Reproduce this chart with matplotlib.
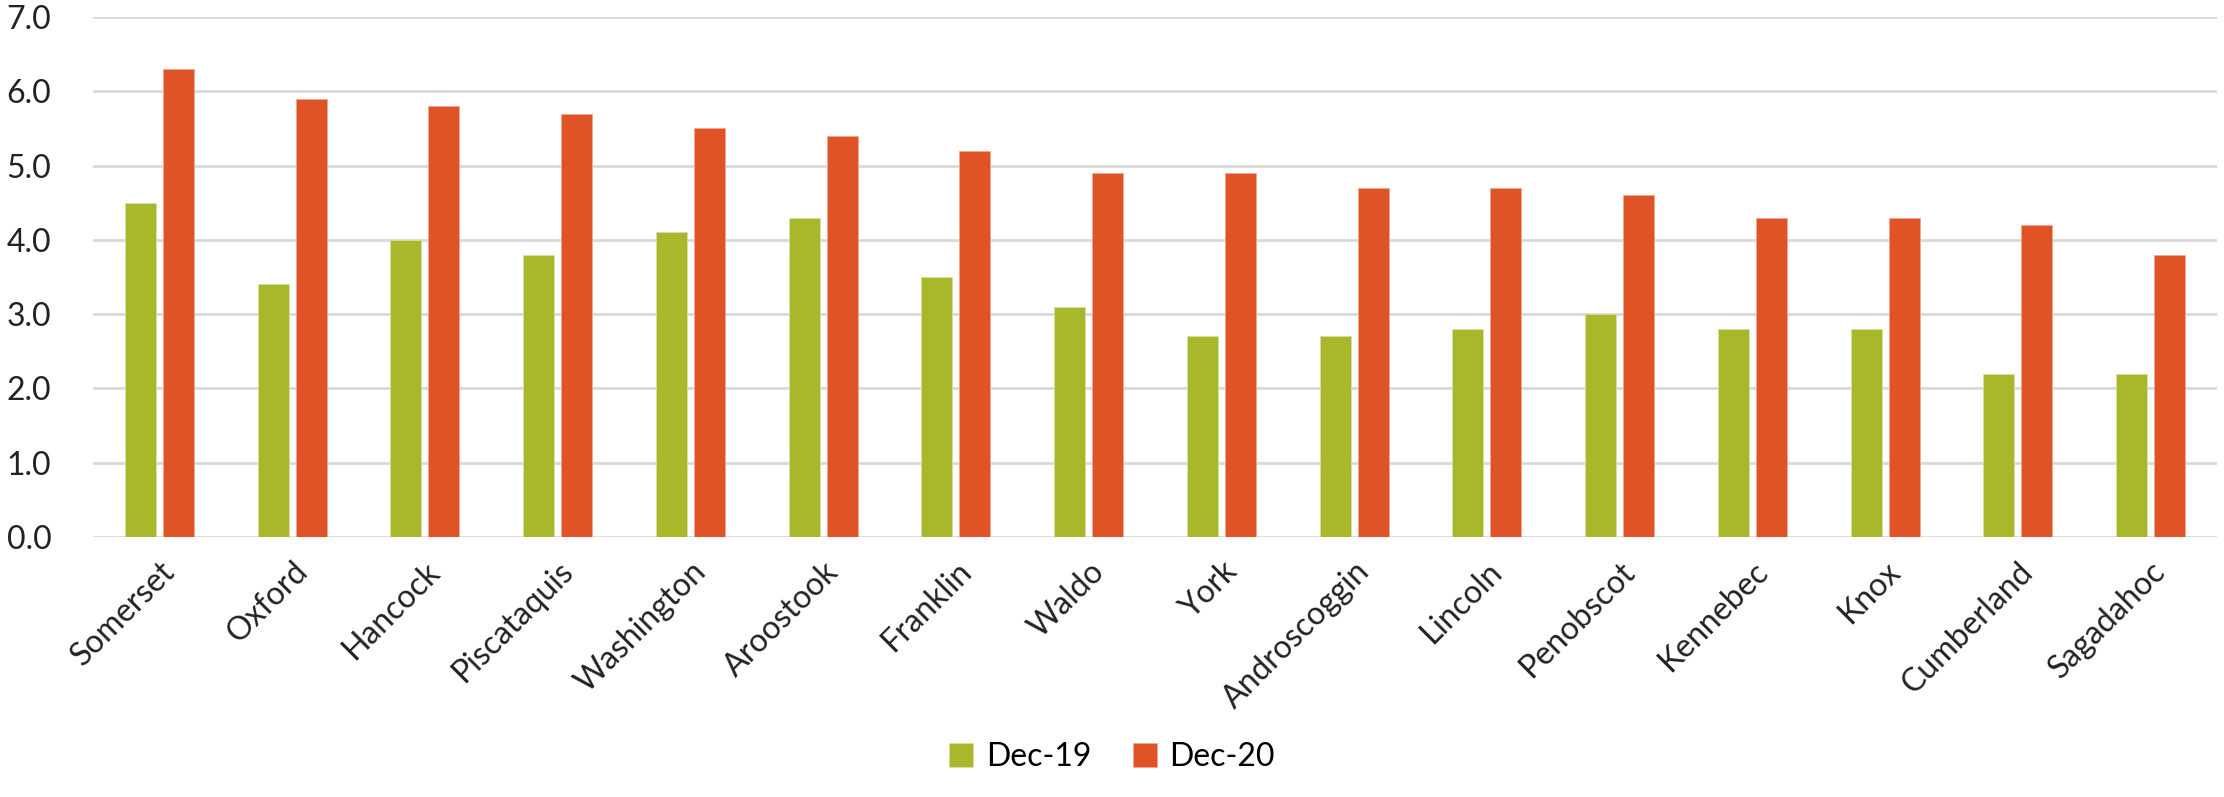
import numpy as np
import matplotlib
matplotlib.use("Agg")
import matplotlib.pyplot as plt

plt.rcParams['font.family'] = ['Lato', 'DejaVu Sans']

counties = ["Somerset", "Oxford", "Hancock", "Piscataquis", "Washington", "Aroostook",
            "Franklin", "Waldo", "York", "Androscoggin", "Lincoln", "Penobscot",
            "Kennebec", "Knox", "Cumberland", "Sagadahoc"]
dec19 = [4.5, 3.4, 4.0, 3.8, 4.1, 4.3, 3.5, 3.1, 2.7, 2.7, 2.8, 3.0, 2.8, 2.8, 2.2, 2.2]
dec20 = [6.3, 5.9, 5.8, 5.7, 5.5, 5.4, 5.2, 4.9, 4.9, 4.7, 4.7, 4.6, 4.3, 4.3, 4.2, 3.8]
yticks = [0, 1, 2, 3, 4, 5, 6, 7]

green = '#A8B82A'
orange = '#E05327'

fig = plt.figure(figsize=(22.24, 7.97), dpi=100)
ax = fig.add_axes([93/2224, 1 - 537/797, (2217-93)/2224, (537-17)/797])

x = np.arange(len(counties))
w = 0.235
ax.bar(x - 0.143, dec19, w, color=green, edgecolor='#d8e0a0', linewidth=0.6, label='Dec-19', zorder=3)
ax.bar(x + 0.143, dec20, w, color=orange, edgecolor='#f0a890', linewidth=0.6, label='Dec-20', zorder=3)

ax.set_xlim(-0.5, len(counties) - 0.5)
ax.set_ylim(0, 7)
ax.set_yticks(yticks)
ax.set_yticklabels([f"{v:.1f}" for v in yticks], fontsize=23, color='#222222')
ax.set_xticks(x)
ax.set_xticklabels(counties, rotation=45, ha='right', rotation_mode='anchor', fontsize=23, color='#222222')
ax.tick_params(axis='both', length=0)
ax.tick_params(axis='y', pad=30)
ax.tick_params(axis='x', pad=14)
ax.grid(axis='y', color='#D9D9D9', linewidth=2, zorder=0)
ax.set_axisbelow(True)
for s in ax.spines.values():
    s.set_visible(False)

fig.legend(loc='lower center', bbox_to_anchor=(0.5, -0.005), ncol=2, frameon=False,
           fontsize=23, handlelength=0.75, handleheight=0.75, columnspacing=1.3, handletextpad=0.4)

fig.savefig('out.png', dpi=100)
